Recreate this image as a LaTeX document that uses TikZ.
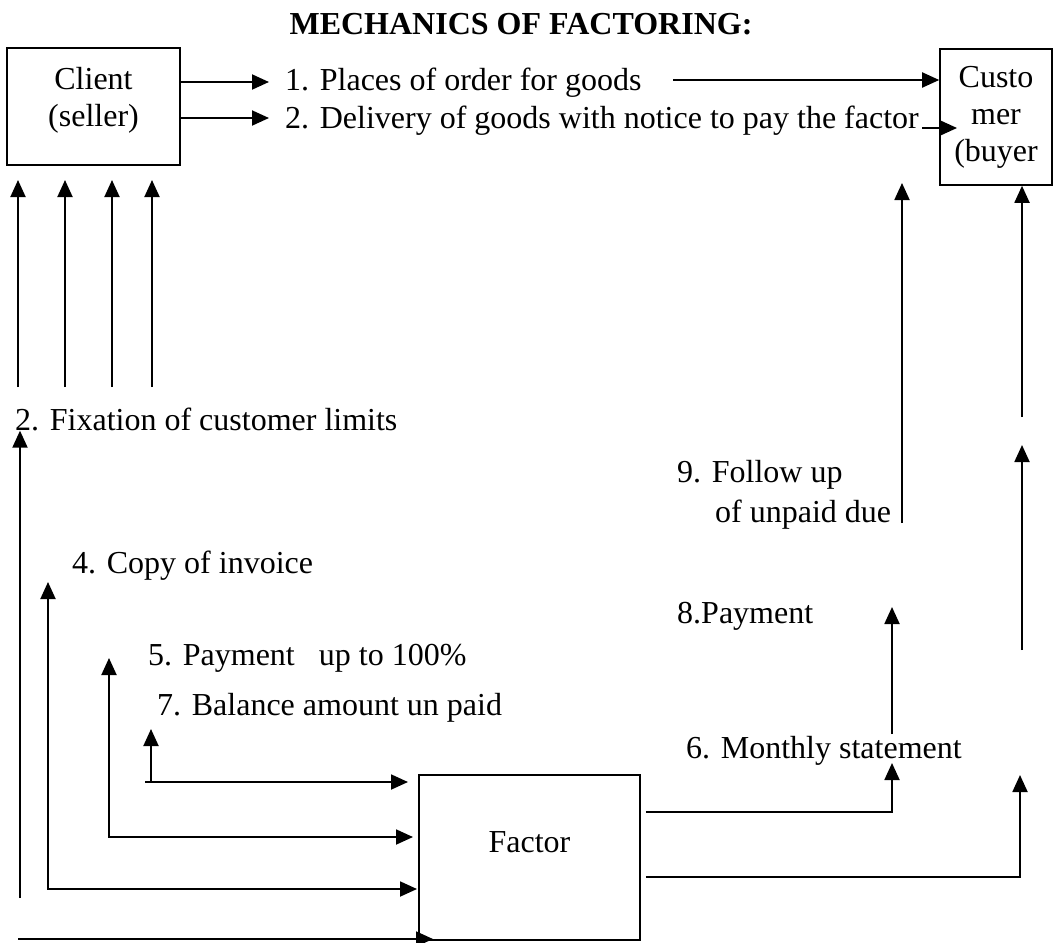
\documentclass[tikz,border=0pt]{standalone}
\usepackage{fontspec}
\setmainfont{Liberation Serif}
\usetikzlibrary{arrows.meta}
\begin{document}
\begin{tikzpicture}[x=1pt,y=-1pt,
  every node/.style={font=\fontsize{32}{37}\selectfont},
  lbl/.style={anchor=base west,inner sep=0pt},
  boxnode/.style={draw,line width=1.6pt,align=center,inner sep=0pt},
  arr/.style={line width=1.9pt,-{Triangle[length=17pt,width=15pt]}},
  darr/.style={line width=1.9pt,{Triangle[length=17pt,width=15pt]}-{Triangle[length=17pt,width=15pt]}},
  ln/.style={line width=1.9pt}]
\useasboundingbox (0,0) rectangle (1059,942);

% title
\node[anchor=base,inner sep=0pt,font=\fontsize{32}{37}\selectfont\bfseries] (title) at (521,35) {MECHANICS OF FACTORING:};

% boxes
\node[boxnode,minimum width=173pt,minimum height=117pt,text depth=20pt] (client) at (93.5,106.5) {Client\\(seller)};
\node[boxnode,minimum width=112pt,minimum height=136pt] (customer) at (996,117) {Custo\\mer\\(buyer};
\node[boxnode,minimum width=221pt,minimum height=165pt,text depth=30pt] (factor) at (529.5,857.5) {Factor};

% labels
\node[lbl] (t1) at (285,90) {1. Places of order for goods};
\node[lbl] (t2) at (285,128) {2. Delivery of goods with notice to pay the factor};
\node[lbl] (tfix) at (15,430) {2. Fixation of customer limits};
\node[lbl] (t4) at (72,573) {4. Copy of invoice};
\node[lbl] (t5) at (148,665) {5. Payment\ \ \ up to 100\%};
\node[lbl] (t7) at (157,715) {7. Balance amount un paid};
\node[lbl] (t6) at (686,758) {6. Monthly statement};
\node[lbl] (t8) at (677,623) {8.Payment};
\node[lbl] (t9) at (677,482) {9. Follow up};
\node[lbl] (t9b) at (715,522) {of unpaid due};

% client -> labels
\draw[arr] (client.east |- 0,82) -- (269,82);
\draw[arr] (client.east |- 0,118) -- (269,118);
\draw[arr] (673,80) -- (customer.west |- 0,80);
\draw[arr] (t2.east |- 0,128) ++(3,0) -- (957,128);

% four arrows up to client
\foreach \xx in {18,65,112,152}
  \draw[arr] (\xx,387) -- (\xx,180);

% long left arrow and bottom line
\coordinate (bl) at (20,898);
\draw[arr] (bl) -- (bl |- tfix.south);
\draw[arr] (18,939) -- (433,939);

% 4, 5, 7 corner arrows
\draw[darr] (48,582) -- (48,889) -- (417,889);
\draw[darr] (109,658) -- (109,837) -- (413,837);
\draw[arr] (151,782) -- (151,729);
\draw[arr] (145,782) -- (408,782);

% factor -> right
\draw[arr] (factor.east |- 0,812) ++(5,0) -- (892,812) -- (892,763);
\draw[arr] (892,734) -- (892,607);
\draw[arr] (factor.east |- 0,877) ++(5,0) -- (1020,877) -- (1020,775);
\draw[arr] (1022,650) -- (1022,445);
\draw[arr] (1022,417) -- (customer.south -| 1022,0);
\draw[arr] (902,523) -- (902,183);
\end{tikzpicture}
\end{document}
